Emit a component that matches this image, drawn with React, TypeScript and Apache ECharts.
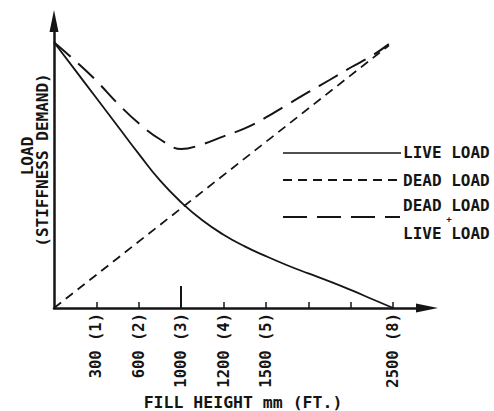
import React, { useEffect, useRef } from "react";
import * as echarts from "echarts";

// Fill height in feet (x) and relative load (y)
const liveX = [0, 0.5, 1, 1.5, 2, 2.5, 3, 3.5, 4, 4.5, 5, 5.5, 6, 6.5, 7, 7.5, 8];
const liveY = [100, 89.5, 79, 68.5, 58, 48, 39.8, 33, 27.6, 23.2, 19.5, 16.1, 13, 10, 6.8, 3.4, 0];

const deadX = [0, 7.9];
const deadY = [0, 98.8];

const comboX = [0, 0.5, 1, 1.5, 2, 2.5, 3, 3.5, 4, 4.5, 5, 5.5, 6, 6.5, 7, 7.5, 7.9];
const comboY = [100, 93, 85.5, 77, 69.5, 63.5, 59.8, 61.6, 64.6, 67.6, 71.7, 76.5, 81.2, 85.8, 90.5, 94.9, 99.3];

const tickValues = [1, 2, 3, 4, 5, 6, 7, 8];
const labelValues = [1, 2, 3, 4, 5, 8];
const tickLabels: Record<number, string> = {
  1: "300 (1)",
  2: "600 (2)",
  3: "1000 (3)",
  4: "1200 (4)",
  5: "1500 (5)",
  8: "2500 (8)",
};
const tallTick = [3, 8.3];

const FONT = "DejaVu Sans Mono";
const INK = "#151515";
const WEIGHT = "bold";

function pairs(xs: number[], ys: number[]) {
  return xs.map((x, i) => [x, ys[i]]);
}

export default function App() {
  const ref = useRef<HTMLDivElement>(null);
  useEffect(() => {
    if (!ref.current) return;
    const chart = echarts.init(ref.current, undefined, { renderer: "svg" });
    const txt = (text: string, x: number, y: number, extra: any = {}) => ({
      type: "text",
      x,
      y,
      style: {
        text,
        fontFamily: FONT,
        fontSize: 16,
        lineHeight: 14,
        fontWeight: WEIGHT,
        fill: INK,
        textAlign: "left",
        textVerticalAlign: "middle",
        ...extra,
      },
    });
    chart.setOption({
      animation: false,
      backgroundColor: "#ffffff",
      grid: { left: 54, right: 67, top: 21, bottom: 103, containLabel: false, outerBoundsMode: "none" },
      xAxis: {
        type: "value",
        min: 0,
        max: 8.8,
        interval: 1,
        splitLine: { show: false },
        axisLine: {
          show: true,
          lineStyle: { color: INK, width: 2.5 },
          symbol: ["none", "triangle"],
          symbolSize: [9, 22],
        },
        axisTick: {
          show: true,
          inside: true,
          length: 6,
          customValues: tickValues,
          lineStyle: { color: INK, width: 1.5 },
        },
        axisLabel: {
          show: true,
          rotate: 90,
          margin: 5,
          customValues: labelValues,
          formatter: (v: number) => tickLabels[v] ?? "",
          fontFamily: FONT,
          fontSize: 15.5,
          fontWeight: WEIGHT,
          color: INK,
        },
      },
      yAxis: {
        type: "value",
        min: 0,
        max: 108,
        splitLine: { show: false },
        axisTick: { show: false },
        axisLabel: { show: false },
        axisLine: {
          show: true,
          lineStyle: { color: INK, width: 2.5 },
          symbol: ["none", "triangle"],
          symbolSize: [9, 22],
        },
      },
      series: [
        {
          type: "line",
          name: "LIVE LOAD",
          data: pairs(liveX, liveY),
          smooth: 0.5,
          showSymbol: false,
          lineStyle: { color: INK, width: 1.8, type: "solid" },
          markLine: {
            silent: true,
            symbol: "none",
            label: { show: false },
            lineStyle: { color: INK, width: 2, type: "solid" },
            data: [[{ coord: [tallTick[0], 0] }, { coord: [tallTick[0], tallTick[1]] }]],
          },
        },
        {
          type: "line",
          name: "DEAD LOAD",
          data: pairs(deadX, deadY),
          showSymbol: false,
          lineStyle: { color: INK, width: 1.8, type: [9, 6] },
        },
        {
          type: "line",
          name: "DEAD + LIVE LOAD",
          data: pairs(comboX, comboY),
          smooth: 0.4,
          showSymbol: false,
          lineStyle: { color: INK, width: 2, type: [22, 10] },
        },
      ],
      graphic: [
        { ...txt("LOAD", 27, 156, { textAlign: "center" }), rotation: Math.PI / 2 },
        { ...txt("(STIFFNESS DEMAND)", 42, 160, { textAlign: "center" }), rotation: Math.PI / 2 },
        txt("FILL HEIGHT mm (FT.)", 243, 402, { textAlign: "center", fontSize: 16.5 }),
        { type: "line", shape: { x1: 283, y1: 153, x2: 401, y2: 153 }, style: { stroke: INK, lineWidth: 1.5 } },
        { type: "line", shape: { x1: 283, y1: 180, x2: 398, y2: 180 }, style: { stroke: INK, lineWidth: 2, lineDash: [9, 6] } },
        { type: "line", shape: { x1: 283, y1: 217, x2: 400, y2: 217 }, style: { stroke: INK, lineWidth: 2, lineDash: [24, 10] } },
        txt("LIVE LOAD", 403, 152),
        txt("DEAD LOAD", 403, 180),
        txt("DEAD LOAD", 403, 205),
        txt("+", 449, 219, { fontSize: 9, lineHeight: 9, textAlign: "center" }),
        txt("LIVE LOAD", 403, 233),
      ],
    });
    return () => chart.dispose();
  }, []);
  return (
    <div
      ref={ref}
      style={{ position: "fixed", left: 0, top: 0, width: 494, height: 411, background: "#fff" }}
    />
  );
}
